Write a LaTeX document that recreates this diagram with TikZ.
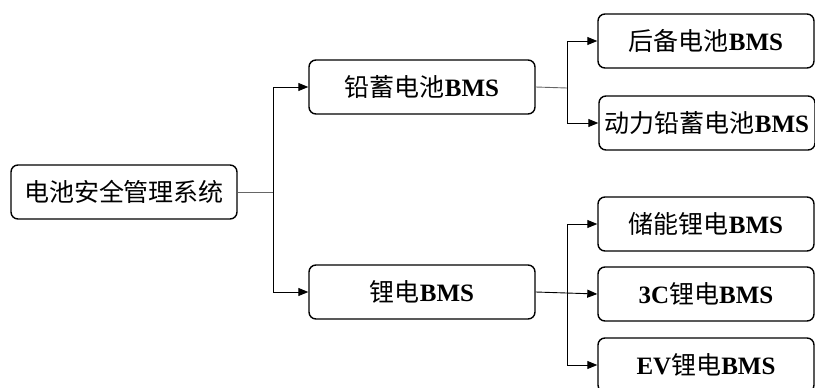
\documentclass[tikz,border=0pt]{standalone}
\usepackage{fontspec}
\setmainfont{Liberation Serif}
\newfontfamily\cjk{Noto Sans CJK SC}
\usetikzlibrary{arrows.meta}

\begin{document}
\begin{tikzpicture}[x=1pt, y=-1pt, font=\fontsize{25}{29}\selectfont,
		box/.style={draw, line width=1.4pt, rounded corners=7pt, minimum height=54pt, inner sep=0pt},
		mid/.style={box, minimum width=226pt},
		leaf/.style={box, minimum width=216pt},
		stem/.style={line width=0.9pt, black!60},
		link/.style={line width=0.9pt, -{Triangle[length=10pt, width=8pt]}}]
			\useasboundingbox (0,0) rectangle (815,388);
			
			\node[mid] (bms) at (124,192) {{\cjk 电池安全管理系统}};
			\node[mid] (lead) at (422,87) {{\cjk 铅蓄电池}\textbf{BMS}};
			\node[mid] (li) at (422,292) {{\cjk 锂电}\textbf{BMS}};
			
			\node[leaf] (backup) at (706,41) {{\cjk 后备电池}\textbf{BMS}};
			\node[leaf] (power) at (707,123) {{\cjk 动力铅蓄电池}\textbf{BMS}};
			\node[leaf] (store) at (706,224) {{\cjk 储能锂电}\textbf{BMS}};
			\node[leaf] (cc) at (706,294) {\textbf{3C}{\cjk 锂电}\textbf{BMS}};
			\node[leaf] (ev) at (706,365) {\textbf{EV}{\cjk 锂电}\textbf{BMS}};
			
			\coordinate (b1) at (273,192);
			\coordinate (b2) at (567,88);
			\coordinate (b3) at (567,293);
			
			\draw[stem] (bms.east) -- (b1);
			\draw[link] (b1) |- (lead.west);
			\draw[link] (b1) |- (li.west);
			
			\draw[stem] (lead.east) -- (b2);
			\draw[link] (b2) |- (backup.west);
			\draw[link] (b2) |- (power.west);
			
			\draw[link] (li.east) -- (cc.west);
			\draw[link] (b3) |- (store.west);
			\draw[link] (b3) |- (ev.west);
		\end{tikzpicture}
\end{document}
